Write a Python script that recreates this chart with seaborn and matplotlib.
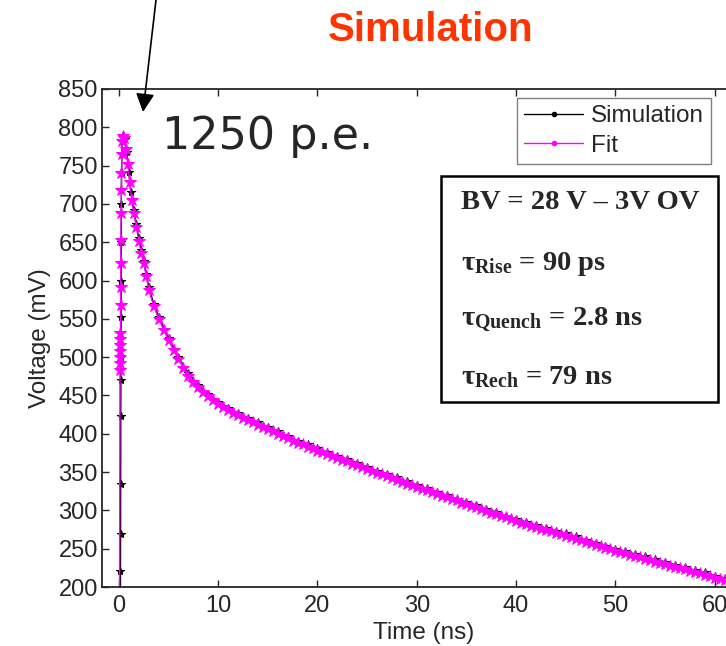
import numpy as np
import pandas as pd
import seaborn as sb
import matplotlib.pyplot as plt
import matplotlib
from matplotlib.lines import Line2D
from matplotlib.patches import Rectangle

sb.set_style('ticks')
matplotlib.rcParams['font.family'] = ['Liberation Sans', 'DejaVu Sans']
matplotlib.rcParams['mathtext.fontset'] = 'custom'
matplotlib.rcParams['mathtext.rm'] = 'Liberation Serif:bold'
matplotlib.rcParams['mathtext.bf'] = 'Liberation Serif:bold'
matplotlib.rcParams['mathtext.it'] = 'Liberation Serif:bold'

# simulation (black), time in ns, voltage in mV
sim_t = [0.15, 0.16, 0.17, 0.18, 0.19, 0.20, 0.21, 0.22, 0.23, 0.24, 0.25, 0.27,
         0.30, 0.35, 0.45, 0.60, 0.80, 1.00, 1.20, 1.50, 1.75, 2.00, 2.25, 2.50,
         2.75, 3.00, 3.50,
         4, 5, 6, 7, 8, 9, 10, 11, 12, 13, 14, 15, 16, 17, 18, 19, 20,
         21, 22, 23, 24, 25, 26, 27, 28, 29, 30, 31, 32, 33, 34, 35, 36, 37, 38, 39, 40,
         41, 42, 43, 44, 45, 46, 47, 48, 49, 50, 51, 52, 53, 54, 55, 56, 57, 58, 59, 60,
         61, 62, 63]
sim_v = [150, 221, 269, 334, 423, 470, 500, 552, 600, 650, 700, 740,
         765, 782, 790, 785, 768, 742, 715, 692, 674, 656, 640, 625,
         609, 592, 570,
         553, 525, 500, 479, 464, 452, 442, 434, 427, 421, 415, 409, 403, 397, 391, 386, 381,
         376, 371, 367, 362, 357, 352, 347, 343, 338, 333, 329, 324, 320, 315, 311, 307, 302, 298, 293, 289,
         285, 281, 277, 273, 270, 266, 262, 258, 254, 250, 247, 243, 240, 236, 233, 229, 226, 222, 219, 215,
         212, 208, 205]

# fit (magenta)
fit_t = [0.05, 0.10, 0.11, 0.12, 0.13, 0.14, 0.15, 0.16, 0.17, 0.18, 0.19, 0.20,
         0.22, 0.24, 0.26, 0.30, 0.35, 0.45, 0.55, 0.70, 0.90, 1.10, 1.30, 1.50,
         1.75, 2.00, 2.25, 2.50, 2.75,
         3.0, 3.5, 4.0, 4.5, 5.0, 5.5, 6.0, 6.5, 7.0, 7.5, 8.0, 8.5, 9.0, 9.5,
         10.0, 10.5, 11.0, 11.5, 12.0, 12.5, 13.0, 13.5, 14.0, 14.5, 15.0, 15.5,
         16.0, 16.5, 17.0, 17.5, 18.0, 18.5, 19.0, 19.5, 20.0, 20.5, 21.0, 21.5,
         22.0, 22.5, 23.0, 23.5, 24.0, 24.5, 25.0, 25.5, 26.0, 26.5, 27.0, 27.5,
         28.0, 28.5, 29.0, 29.5, 30.0, 30.5, 31.0, 31.5, 32.0, 32.5, 33.0, 33.5,
         34.0, 34.5, 35.0, 35.5, 36.0, 36.5, 37.0, 37.5, 38.0, 38.5, 39.0, 39.5,
         40.0, 40.5, 41.0, 41.5, 42.0, 42.5, 43.0, 43.5, 44.0, 44.5, 45.0, 45.5,
         46.0, 46.5, 47.0, 47.5, 48.0, 48.5, 49.0, 49.5, 50.0, 50.5, 51.0, 51.5,
         52.0, 52.5, 53.0, 53.5, 54.0, 54.5, 55.0, 55.5, 56.0, 56.5, 57.0, 57.5,
         58.0, 58.5, 59.0, 59.5, 60.0, 60.5, 61.0, 61.5, 62.0, 62.5, 63.0]
fit_v = [100, 483, 492, 500, 508, 516, 524, 531, 568, 591, 623, 653,
         688, 718, 740, 765, 782, 788, 786, 772, 752, 728, 705, 688,
         670, 652, 636, 623, 606,
         588, 567, 550, 536, 522, 509, 497, 486, 476, 468, 461, 455, 449, 444,
         439, 435, 431, 427, 424, 421, 418, 415, 412, 409, 406, 403,
         400, 397, 394, 391, 388, 386, 383, 381, 378, 376, 373, 371,
         368, 366, 364, 361, 359, 357, 354, 352, 349, 347, 345, 342,
         340, 337, 335, 333, 330, 328, 326, 324, 321, 319, 317, 315,
         313, 310, 308, 306, 304, 302, 299, 297, 295, 293, 291, 289,
         286, 284, 282, 280, 278, 276, 275, 273, 271, 269, 267, 265,
         263, 261, 259, 257, 255, 253, 251, 249, 247, 246, 244, 242,
         240, 239, 237, 235, 233, 232, 230, 228, 226, 225, 223, 221,
         219, 218, 216, 214, 212, 211, 209, 207, 206, 204, 202]

x_ticks = [0, 10, 20, 30, 40, 50, 60]
y_ticks = [200, 250, 300, 350, 400, 450, 500, 550, 600, 650, 700, 750, 800, 850]

info_lines = ['BV = 28 V \u2013 3V OV',
              '$\\mathrm{\u03c4_{Rise}}$ = 90 ps',
              '$\\mathrm{\u03c4_{Quench}}$ = 2.8 ns',
              '$\\mathrm{\u03c4_{Rech}}$ = 79 ns']

fig = plt.figure(figsize=(7.26, 6.46), dpi=100)
ax = fig.add_axes([0.1405, 0.0913, 0.885, 0.771])

sb.lineplot(x=sim_t, y=sim_v, sort=False, estimator=None, color='black',
            marker='*', markersize=6, markeredgecolor='black', lw=1, ax=ax)
sb.lineplot(x=fit_t, y=fit_v, sort=False, estimator=None, color='#ff00ff',
            marker='*', markersize=9, markeredgecolor='#ff00ff', lw=1, ax=ax)

ax.set_xlim(-1.7, 63.0)
ax.set_ylim(200, 850)
ax.set_xticks(x_ticks)
ax.set_yticks(y_ticks)
ax.tick_params(direction='in', top=True, right=True, length=5, width=1,
               labelsize=17)
ax.tick_params(axis='x', pad=6)
ax.tick_params(axis='y', pad=3)
for s in ax.spines.values():
    s.set_linewidth(1.3)
ax.set_xlabel('Time (ns)', fontsize=17.5, labelpad=3)
ax.set_ylabel('Voltage (mV)', fontsize=17.5, labelpad=5)

handles = [Line2D([], [], color='black', marker='.', ms=6, lw=1, label='Simulation'),
           Line2D([], [], color='#ff00ff', marker='.', ms=6, lw=1, label='Fit')]
leg = ax.legend(handles=handles, loc='upper left', bbox_to_anchor=(0.646, 0.982),
                fontsize=17.5, frameon=True, fancybox=False, edgecolor='#808080',
                framealpha=1, borderpad=0.3, handlelength=2.4, labelspacing=0.3,
                borderaxespad=0, handletextpad=0.35)
leg.get_frame().set_linewidth(1)

ax.add_patch(Rectangle((0.5275, 0.3715), 0.431, 0.4538, transform=ax.transAxes,
                       facecolor='white', edgecolor='black', lw=1.8, zorder=5))
ys = [202, 264, 320, 377]
for txt, yp in zip(info_lines, ys):
    fig.text(461 / 726, 1 - yp / 646, txt, fontsize=20.5, fontweight='bold',
             family=['Liberation Serif', 'DejaVu Serif'], va='center', ha='left',
             zorder=6)

fig.text(431 / 726, 1 - 30 / 646, 'Simulation', fontsize=29, fontweight='bold',
         color='#ff3300', ha='center', va='center')
fig.text(162 / 726, 1 - 136 / 646, '1250 p.e.', fontsize=32, family='DejaVu Sans',
         ha='left', va='center')
ax.annotate('', xy=(143 / 726, 1 - 112 / 646), xycoords='figure fraction',
            xytext=(156 / 726, 1.0), textcoords='figure fraction',
            arrowprops=dict(arrowstyle='-|>', color='black', lw=1.2,
                            mutation_scale=28, shrinkA=0, shrinkB=0))

plt.savefig('out.png', dpi=100)
